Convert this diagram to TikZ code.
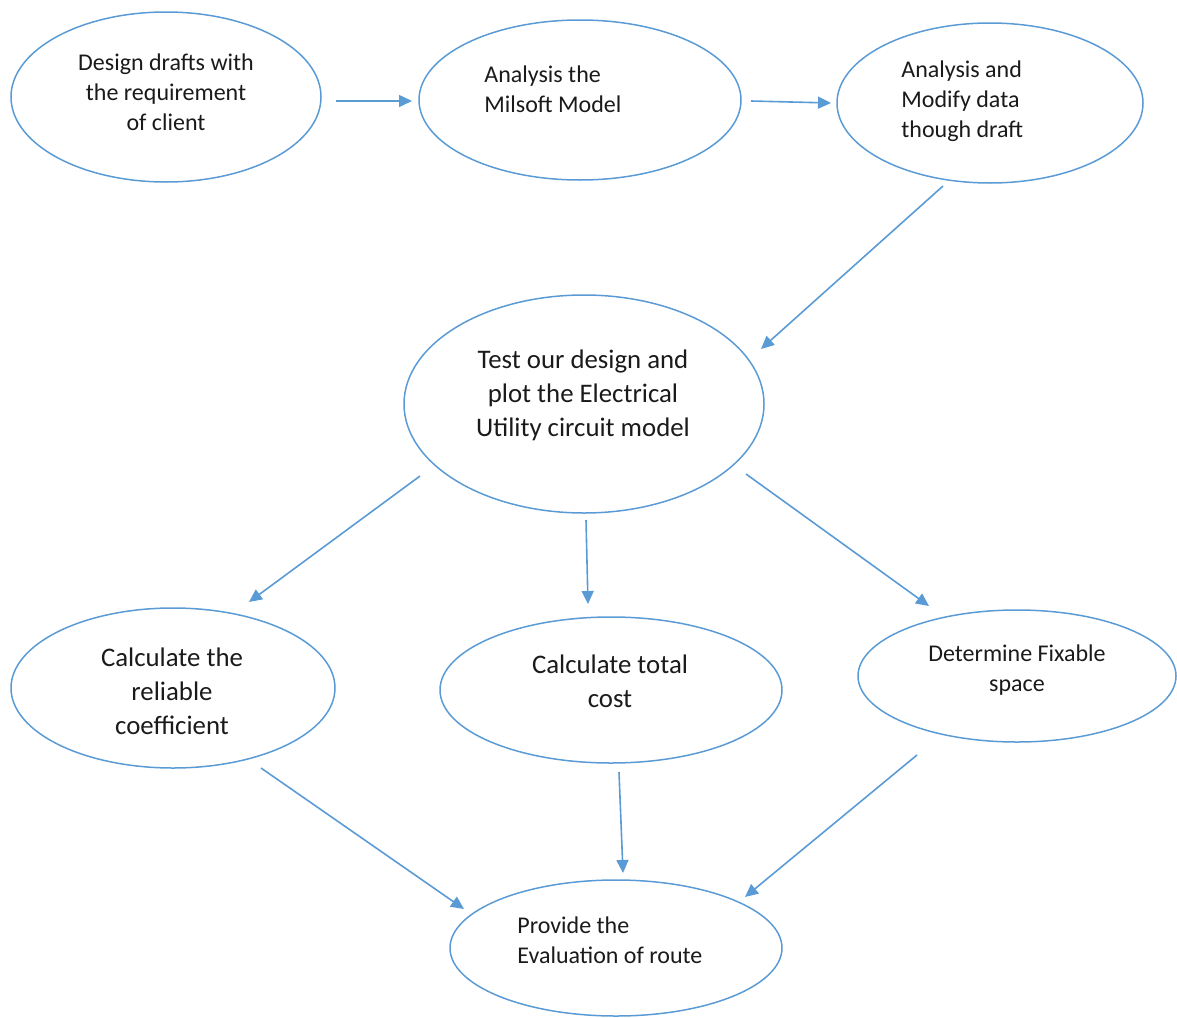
\documentclass[tikz,border=0pt]{standalone}
\usepackage{fontspec}
\setmainfont{Carlito}
\usetikzlibrary{shapes.geometric,arrows.meta}
\definecolor{oblue}{HTML}{5B9BD5}
\definecolor{txt}{HTML}{1A1A1A}
\begin{document}
\begin{tikzpicture}[x=0.5pt,y=-0.5pt,
  oval/.style={ellipse,draw=oblue,line width=0.75pt,inner sep=0pt},
  lbl/.style={inner sep=0pt,text=txt,font=\fontsize{12}{15}\selectfont},
  lblbig/.style={inner sep=0pt,text=txt,font=\fontsize{13.4}{17}\selectfont},
  arr/.style={draw=oblue,line width=0.8pt,-{Triangle[length=6.5pt,width=6pt]}}]
\useasboundingbox (0,0) rectangle (1177,1017);
% ellipses
\node[oval,minimum width=155pt,minimum height=85pt] (e1) at (166,97) {};
\node[oval,minimum width=161pt,minimum height=80pt] (e2) at (580,100) {};
\node[oval,minimum width=153pt,minimum height=80pt] (e3) at (990,103) {};
\node[oval,minimum width=180pt,minimum height=109pt] (e4) at (584,404) {};
\node[oval,minimum width=162pt,minimum height=80pt] (e5) at (173,688) {};
\node[oval,minimum width=171pt,minimum height=73pt] (e6) at (611,690) {};
\node[oval,minimum width=159pt,minimum height=66pt] (e7) at (1017,676) {};
\node[oval,minimum width=166pt,minimum height=68pt] (e8) at (616,948) {};
% texts
\node[lbl,align=center] (t1) at (166,92) {Design drafts with\\the requirement\\of client};
\node[lbl,align=left,anchor=west] (t2) at (484,89) {Analysis the\\Milsoft Model};
\node[lbl,align=left,anchor=west] (t3) at (901,101) {Analysis and\\Modify data\\though draft};
\node[lblbig,align=center] (t4) at (583,395) {Test our design and\\plot the Electrical\\Utility circuit model};
\node[lblbig,align=center] (t5) at (172,691) {Calculate the\\reliable\\coefficient};
\node[lblbig,align=center] (t6) at (610,681) {Calculate total\\cost};
\node[lbl,align=center] (t7) at (1017,670) {Determine Fixable\\space};
\node[lbl,align=left,anchor=west] (t8) at (517,940) {Provide the\\Evaluation of route};
% connector ends
\coordinate (a1s) at (336,101); \coordinate (a1e) at (412,101);
\coordinate (a2s) at (751,101); \coordinate (a2e) at (831,103);
\coordinate (a3s) at (943,186); \coordinate (a3e) at (761,349);
\coordinate (a4s) at (420,476); \coordinate (a4e) at (249,602);
\coordinate (a5s) at (586,520); \coordinate (a5e) at (588,604);
\coordinate (a6s) at (746,474); \coordinate (a6e) at (929,606);
\coordinate (a7s) at (261,768); \coordinate (a7e) at (464,909);
\coordinate (a8s) at (619,772); \coordinate (a8e) at (623,873);
\coordinate (a9s) at (917,755); \coordinate (a9e) at (745,897);
\draw[arr] (a1s) -- (a1e);
\draw[arr] (a2s) -- (a2e);
\draw[arr] (a3s) -- (a3e);
\draw[arr] (a4s) -- (a4e);
\draw[arr] (a5s) -- (a5e);
\draw[arr] (a6s) -- (a6e);
\draw[arr] (a7s) -- (a7e);
\draw[arr] (a8s) -- (a8e);
\draw[arr] (a9s) -- (a9e);
\end{tikzpicture}
\end{document}
